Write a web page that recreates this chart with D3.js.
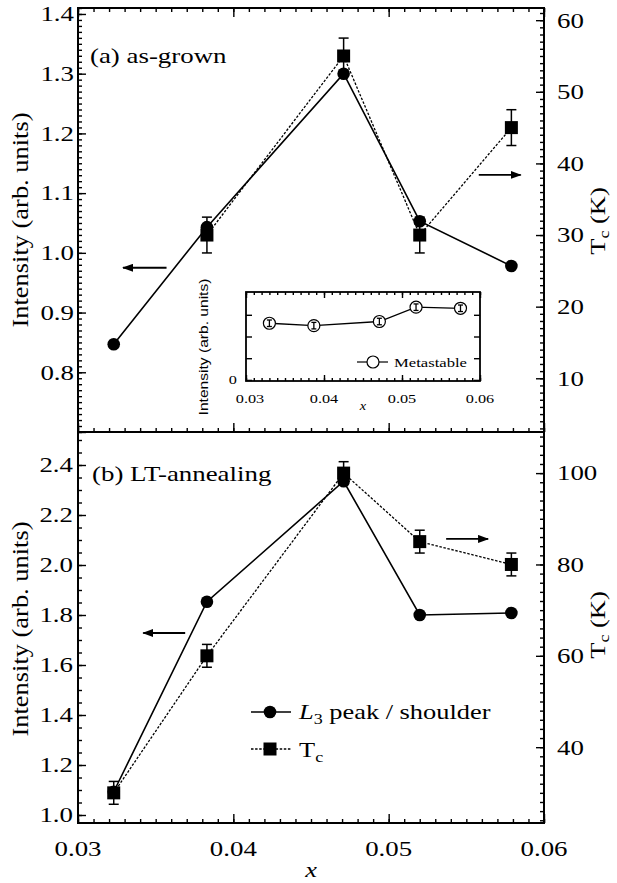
<!DOCTYPE html>
<html lang="en">
<head>
<meta charset="UTF-8">
<title>L3 intensity and Tc vs x</title>
<script src="https://d3js.org/d3.v7.min.js"></script>
<style>
  body { margin: 0; padding: 0; background: #fff; }
  svg { display: block; }
  .tick line { stroke: #000; stroke-width: 1.4px; }
</style>
</head>
<body>
<svg id="chart" width="617" height="883"></svg>
<script>
// x positions of the samples (Mn content)
const xVals = [0.0323, 0.0383, 0.0471, 0.0520, 0.0579];

// (a) as-grown
const grownIntensity = [0.847, 1.043, 1.300, 1.053, 0.978];
const grownTcX = [0.0383, 0.0471, 0.0520, 0.0579];
const grownTc = [30, 55, 30, 45];
const grownTcErr = [2.5, 2.5, 2.5, 2.5];

// (b) LT-annealing
const annealIntensity = [1.093, 1.853, 2.335, 1.800, 1.808];
const annealTc = [30, 60, 100, 85, 80];
const annealTcErr = [2.5, 2.5, 2.5, 2.5, 2.5];

// inset: metastable component
const metaX = [0.0330, 0.0387, 0.0471, 0.0518, 0.0575];
const metaIntensity = [2.61, 2.50, 2.69, 3.35, 3.30];
const metaErr = [0.15, 0.15, 0.15, 0.15, 0.15];

// tick labels
const xTicks = [0.03, 0.04, 0.05, 0.06];
const grownLeftTicks = [0.8, 0.9, 1.0, 1.1, 1.2, 1.3, 1.4];
const grownRightTicks = [10, 20, 30, 40, 50, 60];
const annealLeftTicks = [1.0, 1.2, 1.4, 1.6, 1.8, 2.0, 2.2, 2.4];
const annealRightTicks = [40, 60, 80, 100];

// arrows pointing at the axis each curve belongs to (data units)
const grownArrows = [
  { side: "left", from: 0.0357, to: 0.0329, v: 0.975 },
  { side: "right", from: 0.0558, to: 0.0585, v: 38.4 }
];
const annealArrows = [
  { side: "left", from: 0.0369, to: 0.0342, v: 1.728 },
  { side: "right", from: 0.0537, to: 0.0564, v: 85.6 }
];

const svg = d3.select("#chart");
const SERIF = "'Liberation Serif', 'Times New Roman', serif";
const SANS = "'Liberation Sans', Arial, sans-serif";

// scales
const x = d3.scaleLinear().domain([0.03, 0.06]).range([78, 544]);
const yA = d3.scaleLinear().domain([0.7, 1.41]).range([432, 8]);
const yAT = d3.scaleLinear().domain([2.5, 61.7]).range([432, 8]);
const yB = d3.scaleLinear().domain([0.968, 2.532]).range([823, 432]);
const yBT = d3.scaleLinear().domain([23.4, 109]).range([823, 432]);

const xi = d3.scaleLinear().domain([0.03, 0.06]).range([246, 480]);
const yi = d3.scaleLinear().domain([-0.05, 4.05]).range([381, 292]);

// arrow head
svg.append("defs").append("marker")
  .attr("id", "head")
  .attr("markerUnits", "userSpaceOnUse")
  .attr("markerWidth", 12).attr("markerHeight", 8)
  .attr("refX", 10).attr("refY", 4)
  .attr("orient", "auto")
  .append("path").attr("d", "M0,0 L11,4 L0,8 Z").attr("fill", "#000");

// helper for stretched serif text (the original font is wide)
function txt(g, px, py, s, o = {}) {
  let tr = `translate(${px},${py})`;
  if (o.rot) tr += ` rotate(${o.rot})`;
  tr += ` scale(${o.sx || 1.28},1)`;
  return g.append("text")
    .attr("transform", tr)
    .attr("text-anchor", o.anchor || "start")
    .attr("dy", o.dy || 0)
    .attr("font-family", o.family || SERIF)
    .attr("font-size", o.size || 21)
    .attr("font-style", o.italic ? "italic" : "normal")
    .attr("fill", "#000")
    .text(s);
}

function stepRange(a, b, step) {
  const n = Math.round((b - a) / step);
  return d3.range(n + 1).map(i => +(a + i * step).toFixed(6));
}

function tickGroup(axis, tr) {
  const g = svg.append("g").attr("transform", tr).call(axis);
  g.select(".domain").remove();
  g.selectAll("text").remove();
  return g;
}

function tickGroupIn(parent, axis, tr, w) {
  const g = parent.append("g").attr("transform", tr).call(axis);
  g.select(".domain").remove();
  g.selectAll("text").remove();
  g.selectAll("line").attr("stroke-width", w);
  return g;
}

// ---------- x ticks (inward on every horizontal edge) ----------
const xMajor = xTicks;
const xMinor = stepRange(0.03, 0.06, 0.001);
tickGroup(d3.axisBottom(x).tickValues(xMinor).tickSize(4), "translate(0,8)");
tickGroup(d3.axisBottom(x).tickValues(xMajor).tickSize(9), "translate(0,8)");
tickGroup(d3.axisTop(x).tickValues(xMinor).tickSize(4), "translate(0,432)");
tickGroup(d3.axisTop(x).tickValues(xMajor).tickSize(9), "translate(0,432)");
tickGroup(d3.axisTop(x).tickValues(xMinor).tickSize(4), "translate(0,823)");
tickGroup(d3.axisTop(x).tickValues(xMajor).tickSize(9), "translate(0,823)");

// ---------- y ticks ----------
tickGroup(d3.axisRight(yA).tickValues(stepRange(0.7, 1.41, 0.01)).tickSize(4), "translate(78,0)");
tickGroup(d3.axisRight(yA).tickValues(stepRange(0.7, 1.4, 0.1)).tickSize(8), "translate(78,0)");
tickGroup(d3.axisLeft(yAT).tickValues(stepRange(3, 61, 1)).tickSize(4), "translate(544,0)");
tickGroup(d3.axisLeft(yAT).tickValues(grownRightTicks).tickSize(8), "translate(544,0)");

tickGroup(d3.axisRight(yB).tickValues(stepRange(1.0, 2.5, 0.05)).tickSize(4), "translate(78,0)");
tickGroup(d3.axisRight(yB).tickValues(stepRange(1.0, 2.4, 0.2)).tickSize(8), "translate(78,0)");
tickGroup(d3.axisLeft(yBT).tickValues(stepRange(24, 108, 2)).tickSize(4), "translate(544,0)");
tickGroup(d3.axisLeft(yBT).tickValues(annealRightTicks).tickSize(8), "translate(544,0)");

// frames
svg.append("rect").attr("x", 78).attr("y", 8).attr("width", 466).attr("height", 815)
  .attr("fill", "none").attr("stroke", "#000").attr("stroke-width", 2);
svg.append("line").attr("x1", 78).attr("x2", 544).attr("y1", 432).attr("y2", 432)
  .attr("stroke", "#000").attr("stroke-width", 2);

// ---------- tick labels ----------
const labels = svg.append("g");
grownLeftTicks.forEach(v => txt(labels, 74, yA(v), d3.format(".1f")(v), { anchor: "end", dy: "0.35em" }));
grownRightTicks.forEach(v => txt(labels, 557, yAT(v), String(v), { dy: "0.35em" }));
annealLeftTicks.forEach(v => txt(labels, 73, yB(v), d3.format(".1f")(v), { anchor: "end", dy: "0.35em" }));
annealRightTicks.forEach(v => txt(labels, 557, yBT(v), String(v), { dy: "0.35em" }));
xTicks.forEach(v => txt(labels, x(v), 849, d3.format(".2f")(v), { anchor: "middle", dy: "0.35em" }));
txt(labels, x(0.045), 877, "x", { anchor: "middle", italic: true, size: 22, sx: 1.2 });

// axis titles
txt(labels, 28, 220, "Intensity (arb. units)", { rot: -90, anchor: "middle", size: 23, sx: 1.15 });
txt(labels, 28, 629, "Intensity (arb. units)", { rot: -90, anchor: "middle", size: 23, sx: 1.15 });
[221, 625].forEach(cy => {
  const t = txt(labels, 605, cy, "T", { rot: -90, anchor: "middle", size: 22, sx: 1.2 });
  t.append("tspan").attr("font-size", 15).attr("dy", 4).text("c");
  t.append("tspan").attr("dy", -4).text(" (K)");
});

// panel captions
txt(labels, 90, 63, "(a) as-grown");
txt(labels, 92, 481, "(b) LT-annealing");

// ---------- data ----------
function drawPanel(g, xs, inten, yL, txs, tc, tcErr, yR) {
  const pts = xs.map((d, i) => [d, inten[i]]);
  const tpts = txs.map((d, i) => [d, tc[i], tcErr[i]]);

  g.append("path").datum(tpts)
    .attr("d", d3.line().x(d => x(d[0])).y(d => yR(d[1])))
    .attr("fill", "none").attr("stroke", "#000").attr("stroke-width", 1.3)
    .attr("stroke-dasharray", "2.5,1.6");
  g.append("path").datum(pts)
    .attr("d", d3.line().x(d => x(d[0])).y(d => yL(d[1])))
    .attr("fill", "none").attr("stroke", "#000").attr("stroke-width", 1.6);

  // error bars on Tc
  const eb = g.selectAll(".eb").data(tpts).enter().append("g");
  eb.append("line")
    .attr("x1", d => x(d[0])).attr("x2", d => x(d[0]))
    .attr("y1", d => yR(d[1] - d[2])).attr("y2", d => yR(d[1] + d[2]))
    .attr("stroke", "#000").attr("stroke-width", 1.5);
  [-1, 1].forEach(s => eb.append("line")
    .attr("x1", d => x(d[0]) - 5).attr("x2", d => x(d[0]) + 5)
    .attr("y1", d => yR(d[1] + s * d[2])).attr("y2", d => yR(d[1] + s * d[2]))
    .attr("stroke", "#000").attr("stroke-width", 1.5));

  g.selectAll(".dot").data(pts).enter().append("circle")
    .attr("cx", d => x(d[0])).attr("cy", d => yL(d[1])).attr("r", 6.3).attr("fill", "#000");
  g.selectAll(".sq").data(tpts).enter().append("rect")
    .attr("x", d => x(d[0]) - 6.5).attr("y", d => yR(d[1]) - 6.5)
    .attr("width", 13).attr("height", 13).attr("fill", "#000");
}

function drawArrows(g, arrows, yL, yR) {
  arrows.forEach(a => {
    const yy = a.side === "left" ? yL(a.v) : yR(a.v);
    g.append("line")
      .attr("x1", x(a.from)).attr("x2", x(a.to)).attr("y1", yy).attr("y2", yy)
      .attr("stroke", "#000").attr("stroke-width", 1.8)
      .attr("marker-end", "url(#head)");
  });
}

const pa = svg.append("g");
drawPanel(pa, xVals, grownIntensity, yA, grownTcX, grownTc, grownTcErr, yAT);
drawArrows(pa, grownArrows, yA, yAT);

const pb = svg.append("g");
drawPanel(pb, xVals, annealIntensity, yB, xVals, annealTc, annealTcErr, yBT);
drawArrows(pb, annealArrows, yB, yBT);

// ---------- legend (panel b) ----------
const leg = svg.append("g");
const legX = [251, 291], legMark = 270;
leg.append("line").attr("x1", legX[0]).attr("x2", legX[1]).attr("y1", 712).attr("y2", 712)
  .attr("stroke", "#000").attr("stroke-width", 1.6);
leg.append("circle").attr("cx", legMark).attr("cy", 712).attr("r", 6.3).attr("fill", "#000");
const l1 = txt(leg, 299, 719, "", { size: 22, sx: 1.2 });
l1.append("tspan").attr("font-style", "italic").text("L");
l1.append("tspan").attr("font-size", 15).attr("dy", 5).text("3");
l1.append("tspan").attr("dy", -5).text(" peak / shoulder");

leg.append("line").attr("x1", legX[0]).attr("x2", legX[1]).attr("y1", 749).attr("y2", 749)
  .attr("stroke", "#000").attr("stroke-width", 1.3).attr("stroke-dasharray", "2.5,1.6");
leg.append("rect").attr("x", legMark - 6.5).attr("y", 749 - 6.5).attr("width", 13).attr("height", 13).attr("fill", "#000");
const l2 = txt(leg, 299, 757, "T", { size: 22, sx: 1.2 });
l2.append("tspan").attr("font-size", 15).attr("dy", 5).text("c");

// ---------- inset ----------
const ins = svg.append("g");
ins.append("rect").attr("x", 246).attr("y", 292).attr("width", 234).attr("height", 89)
  .attr("fill", "#fff");
tickGroupIn(ins, d3.axisTop(xi).tickValues(xMinor).tickSize(3), "translate(0,381)", 1);
tickGroupIn(ins, d3.axisTop(xi).tickValues(xTicks).tickSize(6), "translate(0,381)", 1.2);
tickGroupIn(ins, d3.axisBottom(xi).tickValues(xMinor).tickSize(3), "translate(0,292)", 1);
tickGroupIn(ins, d3.axisBottom(xi).tickValues(xTicks).tickSize(6), "translate(0,292)", 1.2);
tickGroupIn(ins, d3.axisRight(yi).tickValues([0, 1, 2, 3]).tickSize(6), "translate(246,0)", 1.2);
tickGroupIn(ins, d3.axisLeft(yi).tickValues([0, 1, 2, 3]).tickSize(6), "translate(480,0)", 1.2);
ins.append("rect").attr("x", 246).attr("y", 292).attr("width", 234).attr("height", 89)
  .attr("fill", "none").attr("stroke", "#000").attr("stroke-width", 1.8);

const mpts = metaX.map((d, i) => [d, metaIntensity[i], metaErr[i]]);
ins.append("path").datum(mpts)
  .attr("d", d3.line().x(d => xi(d[0])).y(d => yi(d[1])))
  .attr("fill", "none").attr("stroke", "#000").attr("stroke-width", 1.3);
ins.selectAll(".mc").data(mpts).enter().append("circle")
  .attr("cx", d => xi(d[0])).attr("cy", d => yi(d[1])).attr("r", 6)
  .attr("fill", "#fff").attr("stroke", "#000").attr("stroke-width", 1.2);
const meb = ins.selectAll(".meb").data(mpts).enter().append("g");
meb.append("line")
  .attr("x1", d => xi(d[0])).attr("x2", d => xi(d[0]))
  .attr("y1", d => yi(d[1] - d[2])).attr("y2", d => yi(d[1] + d[2]))
  .attr("stroke", "#000").attr("stroke-width", 1.3);
[-1, 1].forEach(s => meb.append("line")
  .attr("x1", d => xi(d[0]) - 2.5).attr("x2", d => xi(d[0]) + 2.5)
  .attr("y1", d => yi(d[1] + s * d[2])).attr("y2", d => yi(d[1] + s * d[2]))
  .attr("stroke", "#000").attr("stroke-width", 1.3));

// inset legend
ins.append("line").attr("x1", 357).attr("x2", 388).attr("y1", 362).attr("y2", 362)
  .attr("stroke", "#000").attr("stroke-width", 1.2);
ins.append("circle").attr("cx", 373).attr("cy", 362).attr("r", 6)
  .attr("fill", "#fff").attr("stroke", "#000").attr("stroke-width", 1.2);
txt(ins, 394, 367, "Metastable", { size: 13, sx: 1.28 });

// inset labels
xTicks.forEach(v => txt(ins, xi(v) + (v === 0.03 ? 4 : 0), 398, d3.format(".2f")(v), { anchor: "middle", dy: "0.35em", size: 13, sx: 1.25 }));
txt(ins, 237, yi(0), "0", { anchor: "end", dy: "0.35em", size: 13, sx: 1.25 });
txt(ins, xi(0.045), 410, "x", { anchor: "middle", italic: true, size: 13, sx: 1.1 });
txt(ins, 208, 347, "Intensity (arb. units)", { rot: -90, anchor: "middle", size: 12, sx: 1.3, family: SANS });
</script>
</body>
</html>
